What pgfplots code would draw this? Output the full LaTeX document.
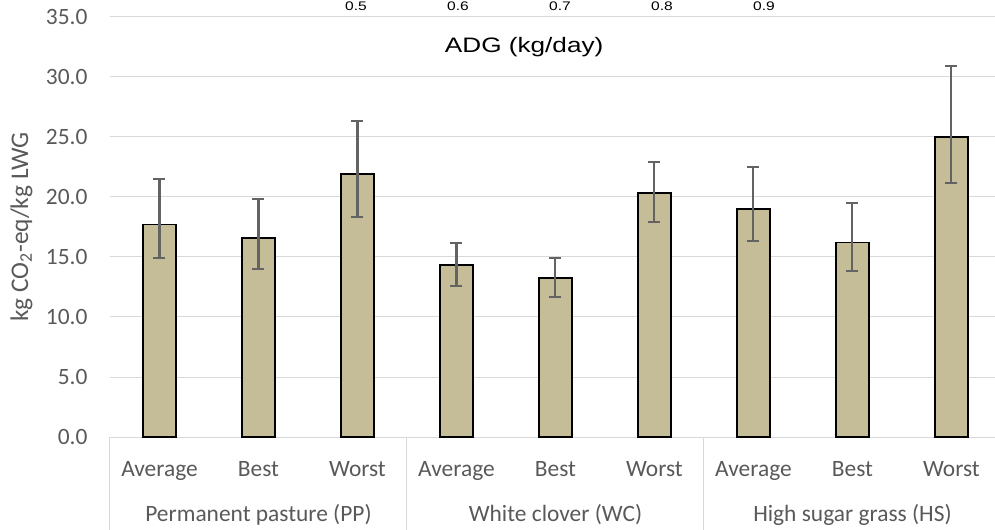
\documentclass[border=0pt]{standalone}
\usepackage{fontspec}
\setmainfont{Carlito}
\newfontfamily\arialst[FakeStretch=1.25]{Liberation Sans}
\usepackage{pgfplots}
\pgfplotsset{compat=1.18}
\usepackage{pgfplotstable}
\definecolor{barfill}{HTML}{C4BD97}
\definecolor{gridgray}{HTML}{D9D9D9}
\definecolor{txtgray}{HTML}{595959}
\definecolor{errgray}{HTML}{636363}
\pgfplotstableread{
x y ep em
0 17.70 3.80 2.80
1 16.60 3.26 2.60
2 21.90 4.43 3.60
3 14.35 1.85 1.75
4 13.25 1.65 1.55
5 20.36 2.58 2.42
6 19.03 3.44 2.73
7 16.20 3.27 2.40
8 25.00 5.92 3.86
}\datatable
\begin{document}
\begin{tikzpicture}
\useasboundingbox (-110bp,-93bp) rectangle (885bp,437bp);
\begin{axis}[
  scale only axis,
  width=885bp, height=420bp,
  xmin=-0.5, xmax=8.44,
  ymin=0, ymax=35,
  ytick={0,5,...,35},
  ymajorgrids,
  grid style={draw=gridgray, line width=1bp},
  axis line style={draw=none},
  major tick length=0pt,
  clip=false,
  font=\fontsize{23.5}{27}\selectfont,
  tick label style={text=txtgray},
  /pgf/number format/assume math mode=true,
  yticklabel style={/pgf/number format/fixed, /pgf/number format/fixed zerofill, /pgf/number format/precision=1, xshift=-19bp},
  xtick={0,...,8},
  xticklabels={Average,Best,Worst,Average,Best,Worst,Average,Best,Worst},
  xticklabel style={anchor=center, yshift=-37bp, text height=1.5ex, text depth=0.25ex},
  ylabel={kg CO\textsubscript{2}-eq/kg LWG},
  ylabel style={at={(axis description cs:-0.1,0.5)}, anchor=center, text=txtgray, font=\fontsize{25.5}{28}\selectfont},
  error bars/error bar style={draw=errgray, line width=2.05bp},
  error bars/error mark options={rotate=90, mark size=6bp, line width=2.05bp, draw=errgray},
]
\addplot[ybar, bar width=33bp, bar shift=0pt, fill=barfill, draw=black, line width=1.8bp,
  error bars/.cd, y dir=both, y explicit]
  table[x=x, y=y, y error plus=ep, y error minus=em] {\datatable};
\draw[gridgray, line width=1bp] (axis cs:-0.5,0) -- ++(0pt,-93bp);
\draw[gridgray, line width=1bp] (axis cs:2.5,0) -- ++(0pt,-93bp);
\draw[gridgray, line width=1bp] (axis cs:5.5,0) -- ++(0pt,-93bp);
\node[text=txtgray, anchor=center, text height=1.5ex, text depth=0.25ex] at ([yshift=-82bp]axis cs:1,0) {Permanent pasture (PP)};
\node[text=txtgray, anchor=center, text height=1.5ex, text depth=0.25ex] at ([yshift=-82bp]axis cs:4,0) {White clover (WC)};
\node[text=txtgray, anchor=center, text height=1.5ex, text depth=0.25ex] at ([yshift=-82bp]axis cs:7,0) {High sugar grass (HS)};
\end{axis}
\begin{axis}[
  scale only axis,
  width=885bp, height=420bp,
  xmin=0.2588, xmax=1.1264,
  ymin=0, ymax=35,
  axis x line*=top,
  axis y line=none,
  axis line style={draw=none},
  major tick length=0pt,
  xtick={0.5,0.6,0.7,0.8,0.9},
  xticklabels={0.5,0.6,0.7,0.8,0.9},
  xticklabel style={font=\arialst\fontsize{12.5}{14}\selectfont, text=black, anchor=center, yshift=11bp},
  xlabel={ADG (kg/day)},
  xlabel style={font=\arialst\fontsize{21}{24}\selectfont, text=black, at={(axis description cs:0.468,1)}, anchor=center, yshift=-30bp},
]
\end{axis}
\end{tikzpicture}
\end{document}
